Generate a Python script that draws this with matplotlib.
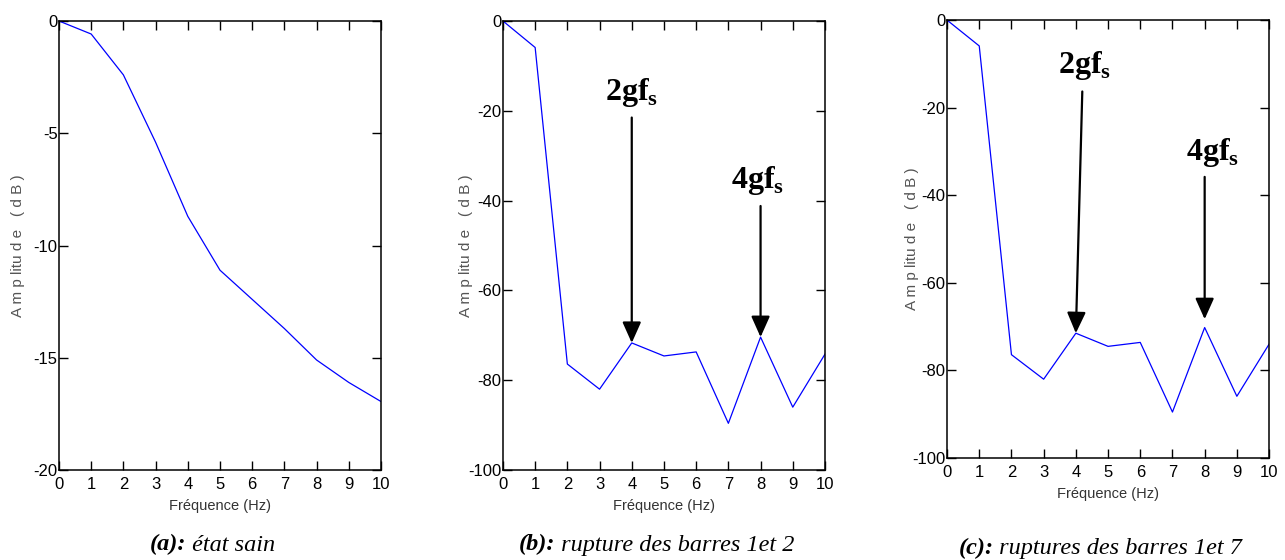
"""Three FFT amplitude spectra (healthy rotor vs broken bars), MATLAB-style panels."""
import matplotlib
matplotlib.use('Agg')
import matplotlib.pyplot as plt
from matplotlib.offsetbox import TextArea, HPacker, AnnotationBbox

plt.rcParams['axes.unicode_minus'] = False
plt.rcParams['mathtext.fontset'] = 'custom'
plt.rcParams['mathtext.rm'] = 'Liberation Serif'
plt.rcParams['mathtext.bf'] = 'Liberation Serif:bold'

NARROW = ['Liberation Sans Narrow', 'Liberation Sans', 'DejaVu Sans']

freq = [0, 1, 2, 3, 4, 5, 6, 7, 8, 9, 10]
amp_sain = [0, -0.58, -2.4, -5.4, -8.7, -11.1, -12.4, -13.7, -15.1, -16.1, -16.95]
amp_b12 = [0, -5.9, -76.4, -82.0, -71.7, -74.6, -73.7, -89.6, -70.4, -86.0, -74.2]
amp_b17 = [0, -5.9, -76.4, -82.0, -71.5, -74.5, -73.6, -89.5, -70.2, -85.9, -74.0]

yticks_a = [0, -5, -10, -15, -20]
yticks_bc = [0, -20, -40, -60, -80, -100]

cap_tags = ['(a):', '(b):', '(c):']
cap_texts = [' état sain', ' rupture des barres 1et 2', ' ruptures des barres 1et 7']

# (text x, text y, arrow start x, arrow start y, tip x, tip y)
marks_b = [(4.0, -17.6, 4.0, -21.5, 4.0, -71.7),
           (7.9, -37.2, 8.0, -41.2, 8.0, -70.4)]
marks_c = [(4.27, -12.1, 4.2, -16.3, 4.0, -71.5),
           (8.26, -32.0, 8.0, -35.8, 8.0, -68.3)]


def style(ax, yticks, ylab_x):
    ax.set_xlim(0, 10)
    ax.set_ylim(min(yticks), max(yticks))
    ax.set_xticks(freq)
    ax.set_yticks(yticks)
    ax.tick_params(direction='in', length=6.5, width=1, top=True, right=True,
                   labelsize=12)
    ax.tick_params(axis='x', pad=5)
    ax.tick_params(axis='y', pad=1)
    for lab in ax.get_xticklabels() + ax.get_yticklabels():
        lab.set_family(NARROW)
    for sp in ax.spines.values():
        sp.set_linewidth(1.1)
    ax.set_xlabel('Fréquence (Hz)', fontsize=10.5, family=NARROW, color='#333333',
                  labelpad=5)
    ax.set_ylabel('A m p litu d e   ( d B )', fontsize=11, family=NARROW,
                  color='#555555')
    ax.yaxis.set_label_coords(ylab_x, 0.5)


def mark(ax, marks, label_list):
    for (tx, ty, sx, sy, ex, ey), lab in zip(marks, label_list):
        ax.text(tx, ty, lab, ha='center', va='baseline', fontsize=23)
        ax.annotate('', xy=(ex, ey), xytext=(sx, sy),
                    arrowprops=dict(arrowstyle='-|>,head_width=0.38,head_length=0.85',
                                    mutation_scale=15, lw=1.6, color='black',
                                    shrinkA=0, shrinkB=0))


fig = plt.figure(figsize=(12.85, 5.6), dpi=100)
ax_a = fig.add_axes([0.0459, 0.1607, 0.2506, 0.8018])
ax_b = fig.add_axes([0.3914, 0.1607, 0.2506, 0.8018])
ax_c = fig.add_axes([0.7370, 0.1821, 0.2506, 0.7820])

ax_a.plot(freq, amp_sain, color='#0000ff', lw=0.9)
ax_b.plot(freq, amp_b12, color='#0000ff', lw=0.9)
ax_c.plot(freq, amp_b17, color='#0000ff', lw=0.9)

style(ax_a, yticks_a, -0.105)
style(ax_b, yticks_bc, -0.092)
style(ax_c, yticks_bc, -0.088)

lbls = [r'$\mathbf{2gf}_\mathbf{s}$', r'$\mathbf{4gf}_\mathbf{s}$']
mark(ax_b, marks_b, lbls)
mark(ax_c, marks_c, lbls)

# captions under each panel: bold italic tag + italic description
for ax, tag, txt, y in zip([ax_a, ax_b, ax_c], cap_tags, cap_texts, [0.008, 0.008, 0.002]):
    pos = ax.get_position()
    fp = dict(fontsize=17.5, family='Liberation Serif', style='italic')
    box = HPacker(children=[TextArea(tag, textprops=dict(fontweight='bold', **fp)),
                            TextArea(txt, textprops=fp)],
                  align='baseline', pad=0, sep=0)
    ab = AnnotationBbox(box, (pos.x0 + pos.width / 2 - 0.006, y),
                        xycoords='figure fraction', box_alignment=(0.5, 0),
                        frameon=False, pad=0)
    fig.add_artist(ab)

fig.savefig('out.png', dpi=100)
